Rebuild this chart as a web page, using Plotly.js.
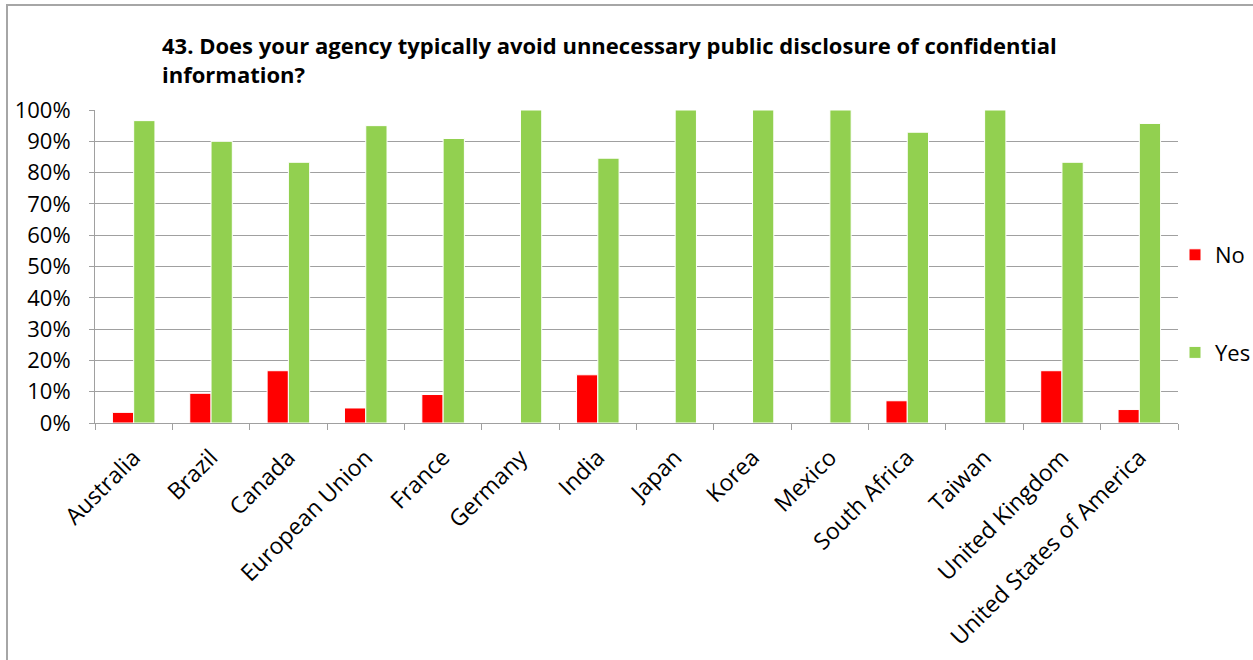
<!DOCTYPE html>
<html>
<head>
<meta charset="utf-8">
<script src="https://cdn.plot.ly/plotly-3.0.1.min.js"></script>
<style>
  html, body { margin: 0; padding: 0; background: #fff; overflow: hidden; }
  #chart { position: absolute; left: 0; top: 0; width: 1253px; height: 660px; }
  #frame { position: absolute; left: 6px; top: 4px; width: 1400px; height: 800px;
           border-left: 2px solid #a6a6a6; border-top: 2px solid #a6a6a6; pointer-events: none; }
</style>
</head>
<body>
<div id="chart"></div>
<div id="frame"></div>
<script>
const categories = ["Australia", "Brazil", "Canada", "European Union", "France", "Germany", "India",
  "Japan", "Korea", "Mexico", "South Africa", "Taiwan", "United Kingdom", "United States of America"];
const noValues  = [0.034, 0.095, 0.167, 0.048, 0.091, 0, 0.154, 0, 0, 0, 0.071, 0, 0.167, 0.043];
const yesValues = [0.966, 0.900, 0.833, 0.950, 0.909, 1, 0.846, 1, 1, 1, 0.929, 1, 0.833, 0.957];
const yTickVals = [0, 0.1, 0.2, 0.3, 0.4, 0.5, 0.6, 0.7, 0.8, 0.9, 1.0];
const yTickText = ["0%", "10%", "20%", "30%", "40%", "50%", "60%", "70%", "80%", "90%", "100%"];
const titleText = "43. Does your agency typically avoid unnecessary public disclosure of confidential<br>information?";

const FONT = "'Open Sans', sans-serif";

const traces = [
  { type: "bar", name: "No", x: categories, y: noValues, legendgroup: "a",
    marker: { color: "#ff0000", line: { color: "#ffffff", width: 1 } } },
  { type: "bar", name: "Yes", x: categories, y: yesValues, legendgroup: "b",
    marker: { color: "#92d050", line: { color: "#ffffff", width: 1 } } }
];

const layout = {
  width: 1253, height: 660,
  paper_bgcolor: "#ffffff", plot_bgcolor: "#ffffff",
  margin: { l: 95, r: 75, t: 110, b: 237, pad: 0, autoexpand: false },
  font: { family: FONT, size: 20, color: "#000000" },
  title: {
    text: titleText,
    font: { family: FONT, size: 22, color: "#000000", weight: "bold" },
    x: 162 / 1253, xanchor: "left", xref: "container",
    y: 1 - 54 / 660, yanchor: "top", yref: "container"
  },
  barmode: "group",
  bargap: 0.45,
  bargroupgap: 0,
  showlegend: true,
  legend: {
    xref: "container", yref: "container",
    x: 1175 / 1253, xanchor: "left", y: 1 - 234 / 660, yanchor: "top",
    font: { family: FONT, size: 22, color: "#000000" },
    traceorder: "grouped", tracegroupgap: 66,
    bgcolor: "rgba(0,0,0,0)"
  },
  xaxis: {
    type: "category",
    tickangle: -45,
    showline: true, linecolor: "#a0a0a0", linewidth: 1,
    ticks: "outside", tickson: "boundaries", ticklen: 6, tickcolor: "#a0a0a0",
    showgrid: false,
    ticklabelstandoff: 11,
    tickfont: { family: FONT, size: 23, color: "#000000" },
    automargin: false
  },
  yaxis: {
    range: [0, 1],
    tickvals: yTickVals, ticktext: yTickText,
    showline: true, linecolor: "#a0a0a0", linewidth: 1,
    ticks: "outside", ticklen: 5, tickcolor: "#a0a0a0",
    showgrid: true, gridcolor: "#a0a0a0", gridwidth: 1,
    zeroline: false,
    ticklabelstandoff: 14,
    tickfont: { family: FONT, size: 22, color: "#000000" },
    automargin: false
  }
};

Plotly.newPlot("chart", traces, layout, { displayModeBar: false, staticPlot: true });
</script>
</body>
</html>
